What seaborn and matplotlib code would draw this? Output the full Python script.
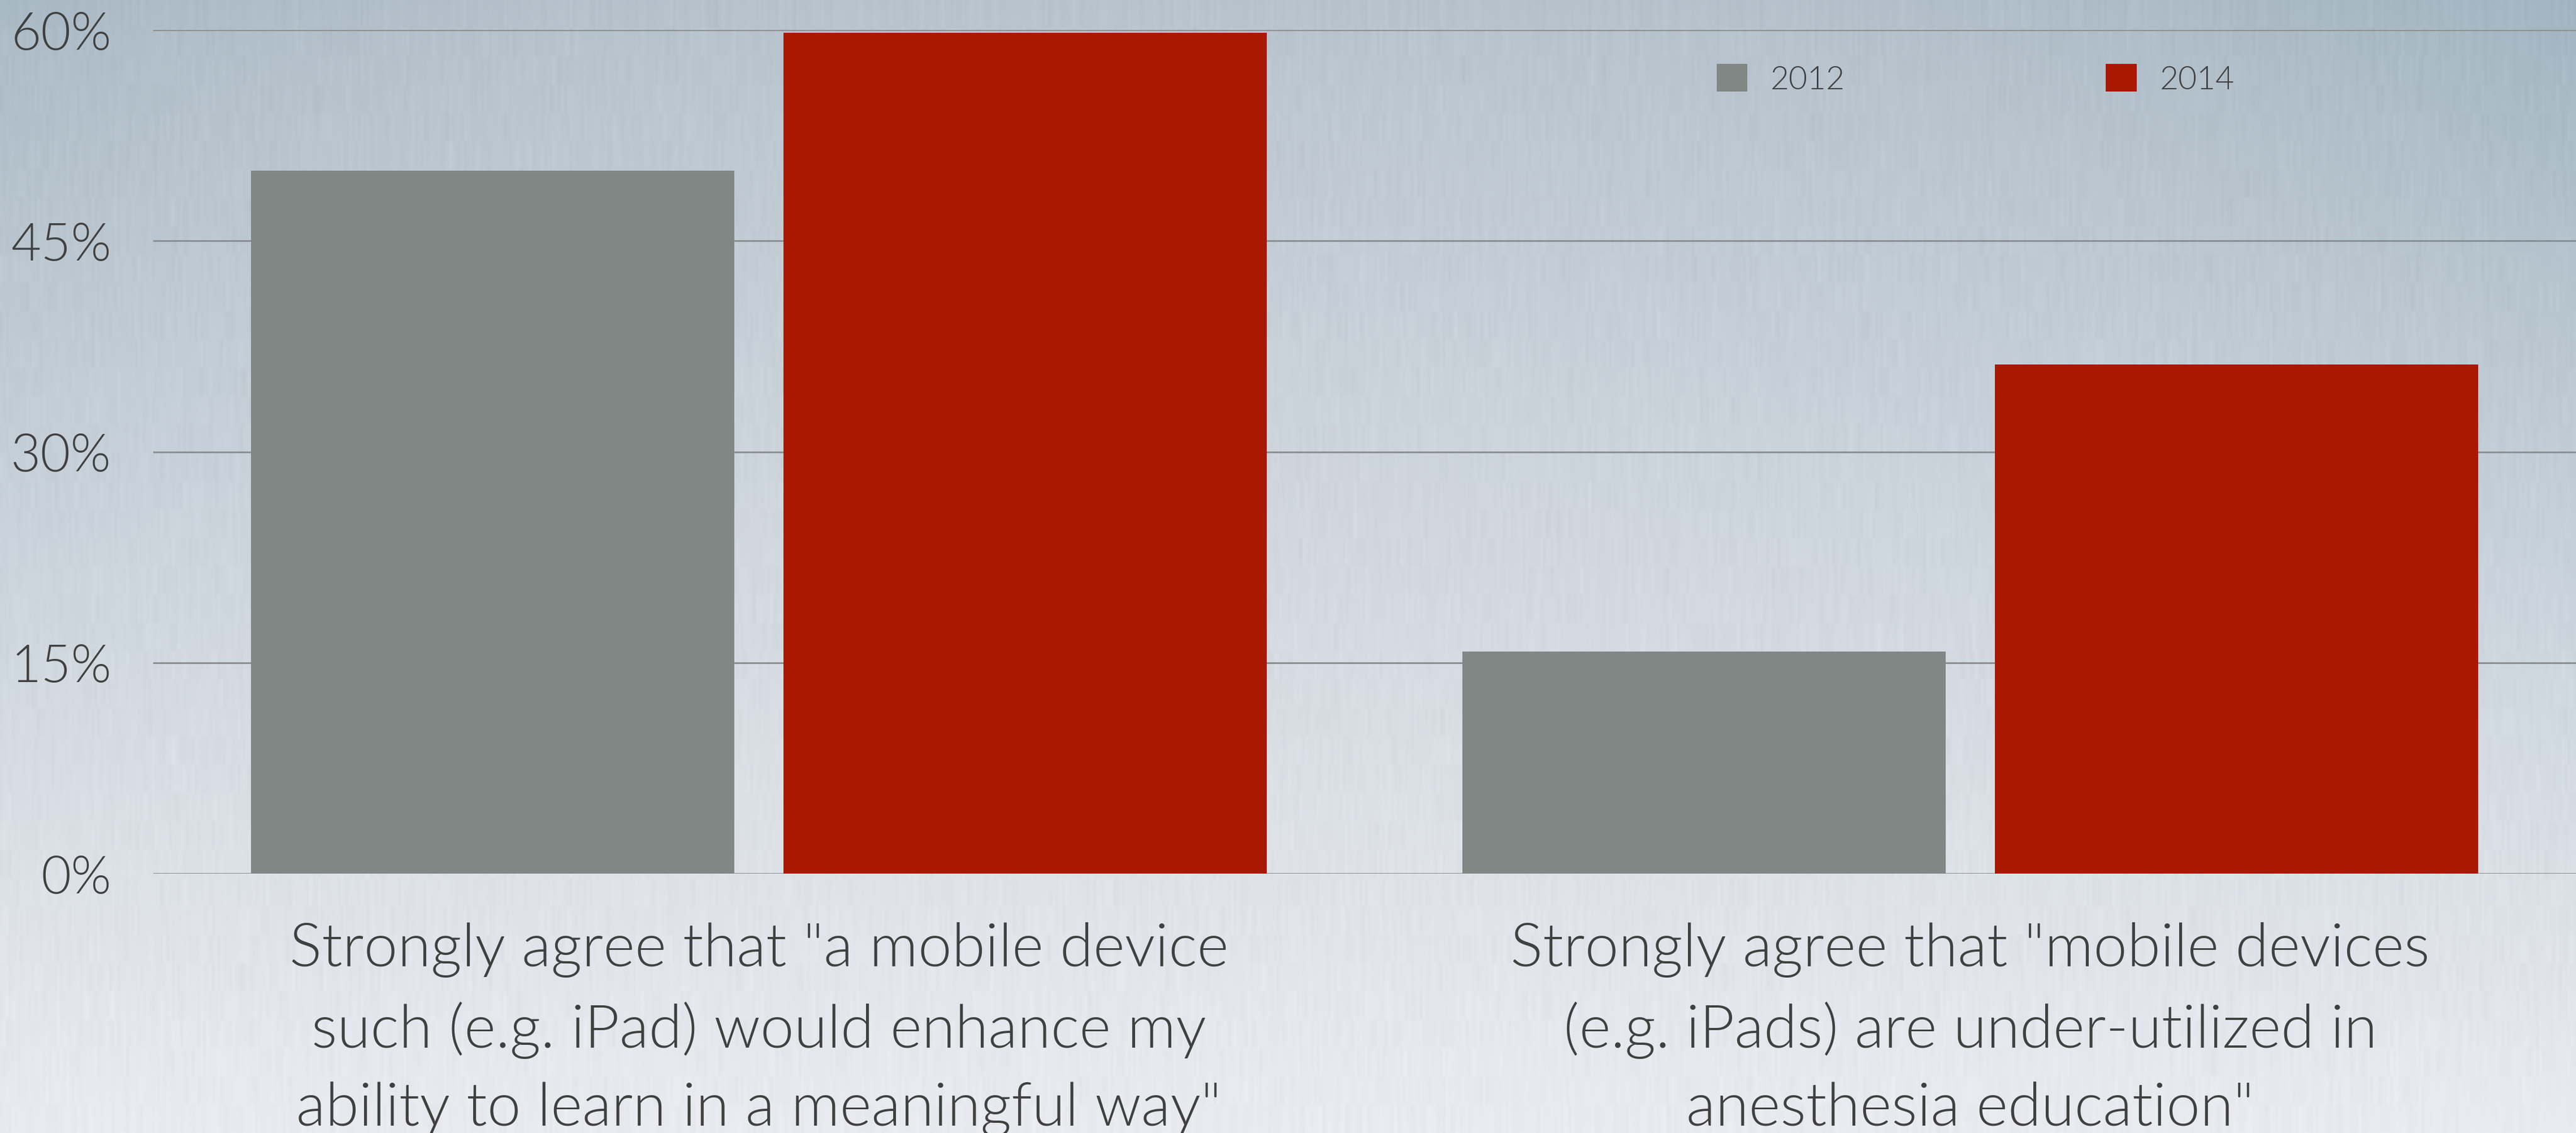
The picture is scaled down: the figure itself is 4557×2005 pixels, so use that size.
import numpy as np
import pandas as pd
import matplotlib
matplotlib.use("Agg")
import matplotlib.pyplot as plt
import seaborn as sns

# --- data -------------------------------------------------------------
statements = [
    'Strongly agree that "a mobile device\nsuch (e.g. iPad) would enhance my\nability to learn in a meaningful way"',
    'Strongly agree that "mobile devices\n(e.g. iPads) are under-utilized in\nanesthesia education"',
]
years = ["2012", "2014"]
share_2012 = [50.0, 15.8]
share_2014 = [59.8, 36.2]
y_ticks = [0, 15, 30, 45, 60]
y_tick_labels = ["0%", "15%", "30%", "45%", "60%"]
year_colors = {"2012": "#818784", "2014": "#A91800"}

df = pd.DataFrame({
    "statement": statements * 2,
    "year": [years[0]] * len(statements) + [years[1]] * len(statements),
    "share": share_2012 + share_2014,
})

# --- style ------------------------------------------------------------
sns.set_theme(style="white")
plt.rcParams["font.family"] = ["Lato", "DejaVu Sans"]
plt.rcParams["font.weight"] = 300
text_color = "#404040"

W, H, DPI = 4557, 2006, 100
fig = plt.figure(figsize=(W / DPI, H / DPI), dpi=DPI)

# brushed-metal style gradient backdrop
bg_ax = fig.add_axes([0, 0, 1, 1], zorder=-10)
yy, xx = np.mgrid[0:1:400j, 0:1:900j]
top = np.array([184, 195, 205]) / 255.0
bottom = np.array([233, 235, 240]) / 255.0
t = yy ** 0.9
base = top[None, None, :] * (1 - t[..., None]) + bottom[None, None, :] * t[..., None]
edge = ((xx - 0.45) / 0.55) ** 2 * (1 - yy) ** 1.1
tint = np.array([22, 14, 12]) / 255.0
img = base - edge[..., None] * tint[None, None, :]
rng = np.random.default_rng(7)
streak = rng.normal(0, 1, (40, 900))
streak = np.repeat(streak, 10, axis=0)
img = img + streak[..., None] * 0.006
bg_ax.imshow(np.clip(img, 0, 1), aspect="auto", extent=[0, 1, 0, 1],
             interpolation="bilinear")
bg_ax.set_axis_off()

# main chart area
left = 271 / W
bottom_f = (H - 1547) / H
top_f = (H - 54) / H
ax = fig.add_axes([left, bottom_f, 1 - left, top_f - bottom_f])
ax.patch.set_alpha(0)

sns.barplot(data=df, x="statement", y="share", hue="year", hue_order=years,
            palette=year_colors, width=0.879, gap=0.092, saturation=1,
            errorbar=None, linewidth=0, ax=ax, zorder=3)

ax.set_xlim(-0.5, 1.5)
ax.set_ylim(0, 60)
ax.set_yticks(y_ticks)
ax.set_yticklabels(y_tick_labels)
ax.set_xlabel("")
ax.set_ylabel("")
ax.set_axisbelow(True)
ax.yaxis.grid(True, color="#8c8f91", linewidth=2.2)
ax.xaxis.grid(False)
for side in ax.spines.values():
    side.set_visible(False)

ax.tick_params(axis="y", length=0, pad=53, labelsize=66, labelcolor=text_color)
ax.tick_params(axis="x", length=0, pad=61, labelsize=77, labelcolor=text_color)
for lab in ax.get_xticklabels() + ax.get_yticklabels():
    lab.set_fontweight(300)
for lab in ax.get_xticklabels():
    lab.set_linespacing(1.52)
    lab.set_horizontalalignment("center")

sns.move_legend(
    ax, loc="center left",
    bbox_to_anchor=(3037 / W, 1 - 141 / H), bbox_transform=fig.transFigure,
    ncol=2, frameon=False, title=None,
    prop={"family": ["Lato", "DejaVu Sans"], "weight": 300, "size": 41},
    handlelength=0.95, handleheight=0.95, handletextpad=0.72,
    columnspacing=8.1, borderpad=0, borderaxespad=0, labelcolor=text_color,
)

fig.savefig("out.png", dpi=DPI)
